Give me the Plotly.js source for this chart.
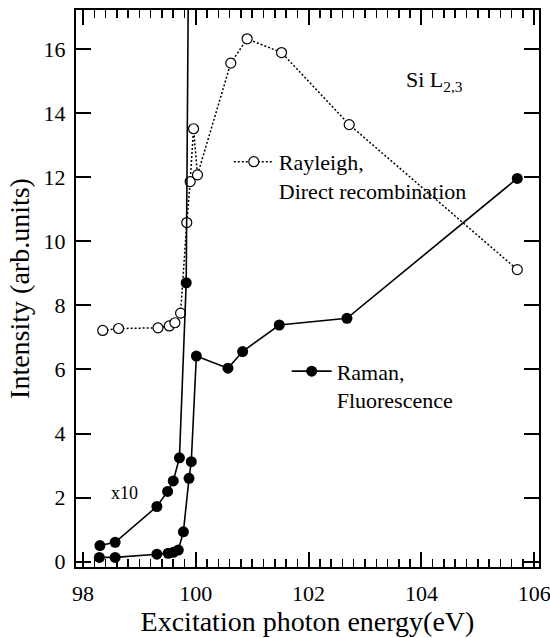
<!DOCTYPE html>
<html>
<head>
<meta charset="utf-8">
<script src="https://cdn.plot.ly/plotly-3.0.1.min.js"></script>
<style>html,body{margin:0;padding:0;background:#fff;}</style>
</head>
<body>
<div id="chart" style="width:550px;height:638px;"></div>
<script>
// Rayleigh / direct recombination (open circles, dotted line)
const rayleighX = [98.35, 98.63, 99.33, 99.53, 99.63, 99.73, 99.84, 99.90, 99.96, 100.03, 100.62, 100.91, 101.52, 102.72, 105.70];
const rayleighY = [7.22, 7.28, 7.30, 7.36, 7.46, 7.76, 10.59, 11.87, 13.52, 12.08, 15.57, 16.33, 15.90, 13.65, 9.12];

// Raman / fluorescence (filled circles, solid line)
const ramanX = [98.29, 98.57, 99.31, 99.51, 99.60, 99.69, 99.78, 99.88, 99.92, 100.01, 100.57, 100.83, 101.48, 102.68, 105.70];
const ramanY = [0.13, 0.13, 0.23, 0.26, 0.29, 0.36, 0.93, 2.60, 3.12, 6.42, 6.04, 6.56, 7.39, 7.60, 11.97];

// Raman x10 (low-energy part magnified, runs off the top)
const ramanX10X = [98.30, 98.57, 99.31, 99.50, 99.60, 99.71, 99.83, 99.90];
const ramanX10Y = [0.50, 0.60, 1.72, 2.19, 2.52, 3.24, 8.71, 26.0];

const xTickVals = [98, 100, 102, 104, 106];
const yTickVals = [0, 2, 4, 6, 8, 10, 12, 14, 16];

const FONT = 'Liberation Serif';

const traces = [
  {
    x: rayleighX, y: rayleighY, type: 'scatter', mode: 'lines+markers',
    name: 'Rayleigh,<br>Direct recombination', legend: 'legend',
    line: {color: 'black', width: 1.5, dash: '2px,2px'},
    marker: {symbol: 'circle', size: 10, color: 'white', line: {color: 'black', width: 1.2}},
    cliponaxis: true
  },
  {
    x: ramanX, y: ramanY, type: 'scatter', mode: 'lines+markers',
    name: 'Raman,<br>Fluorescence', legend: 'legend2',
    line: {color: 'black', width: 1.6},
    marker: {symbol: 'circle', size: 11, color: 'black'},
    cliponaxis: true
  },
  {
    x: ramanX10X, y: ramanX10Y, type: 'scatter', mode: 'lines+markers',
    name: 'Raman x10', showlegend: false,
    line: {color: 'black', width: 1.6},
    marker: {symbol: 'circle', size: 11, color: 'black'},
    cliponaxis: true
  }
];

const axisCommon = {
  showline: true, linecolor: 'black', linewidth: 2, mirror: 'ticks',
  ticks: 'inside', ticklen: 15, tickwidth: 2, tickcolor: 'black',
  showgrid: false, zeroline: false,
  ticklabeloverflow: 'allow',
  tickfont: {family: FONT, size: 22, color: 'black'}
};

const layout = {
  width: 550, height: 638,
  margin: {l: 76, r: 11, t: 10, b: 71},
  paper_bgcolor: 'white', plot_bgcolor: 'white',
  font: {family: FONT, color: 'black'},
  xaxis: Object.assign({}, axisCommon, {
    range: [97.876, 106.085],
    tickmode: 'array', tickvals: xTickVals, ticktext: xTickVals.map(String),
    minor: {dtick: 0.2, tick0: 98, ticks: 'inside', ticklen: 8, tickwidth: 1.5, tickcolor: 'black', showgrid: false},
    ticklabelstandoff: 6,
    title: {text: 'Excitation photon energy(eV)', font: {family: FONT, size: 28, color: 'black'}, standoff: 2}
  }),
  yaxis: Object.assign({}, axisCommon, {
    range: [-0.17, 17.23],
    tickmode: 'array', tickvals: yTickVals, ticktext: yTickVals.map(String),
    ticklabelstandoff: 4,
    title: {text: 'Intensity (arb.units)', font: {family: FONT, size: 28, color: 'black'}, standoff: 6}
  }),
  showlegend: true,
  legend: {
    x: 0.33, y: 0.765, xanchor: 'left', yanchor: 'top', itemwidth: 40,
    bgcolor: 'rgba(0,0,0,0)', borderwidth: 0, valign: 'top',
    font: {family: FONT, size: 22, color: 'black'}
  },
  legend2: {
    x: 0.455, y: 0.389, xanchor: 'left', yanchor: 'top', itemwidth: 40,
    bgcolor: 'rgba(0,0,0,0)', borderwidth: 0, valign: 'top',
    font: {family: FONT, size: 22, color: 'black'}
  },
  annotations: [
    {x: 103.7, y: 15.0, xref: 'x', yref: 'y', xanchor: 'left', yanchor: 'middle', showarrow: false,
     text: 'Si L<sub>2,3</sub>', font: {family: FONT, size: 22, color: 'black'}},
    {x: 98.74, y: 2.14, xref: 'x', yref: 'y', xanchor: 'center', yanchor: 'middle', showarrow: false,
     text: 'x10', font: {family: FONT, size: 18, color: 'black'}}
  ]
};

Plotly.newPlot('chart', traces, layout, {displayModeBar: false, staticPlot: true});
</script>
</body>
</html>
